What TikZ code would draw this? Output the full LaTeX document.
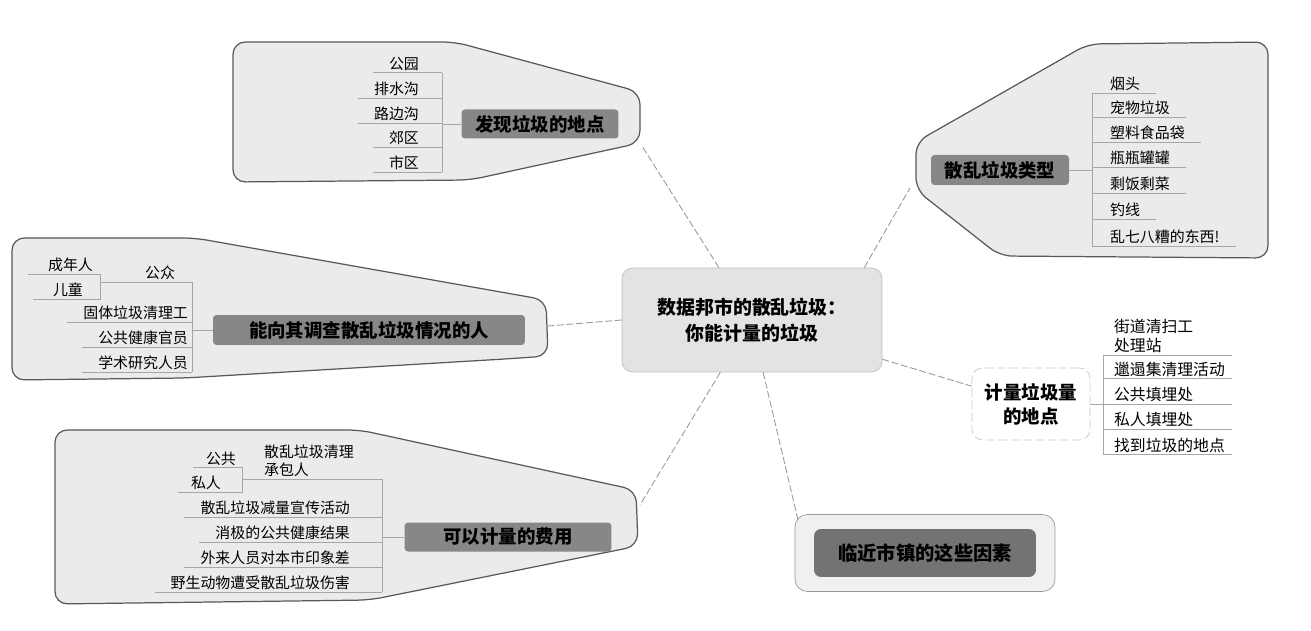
\documentclass[tikz,border=0pt]{standalone}
\usepackage{fontspec}
\setmainfont{Noto Sans CJK SC}
\begin{document}
\begin{tikzpicture}[x=0.02cm,y=-0.02cm,
  balloon/.style={draw=black!65, fill=black!8, line width=0.7pt, rounded corners=7pt},
  topic/.style={fill=black!47, rounded corners=2pt, font=\fontsize{10.5}{12}\selectfont\bfseries, inner sep=0pt, text=black},
  leaf/.style={font=\fontsize{8.5}{10.5}\selectfont, inner sep=1pt},
  rleaf/.style={font=\fontsize{9}{11}\selectfont, inner sep=1pt, anchor=west, align=left},
  rule/.style={draw=black!35, line width=0.5pt},
  link/.style={draw=black!40, line width=0.5pt, dash pattern=on 4pt off 1.5pt},
]
\useasboundingbox (0,0) rectangle (1311,631);

% ---------- central topic ----------
\node[draw=black!25, fill=black!11, rounded corners=6pt, minimum width=5.2cm, minimum height=2.08cm,
      align=center, font=\fontsize{10.8}{15}\selectfont\bfseries] (C) at (752,320)
  {数据邦市的散乱垃圾：\\你能计量的垃圾};

% ---------- where litter is found ----------
\draw[balloon] (233,42) -- (455,42) -- (640,92) -- (640,143) -- (470,180) -- (233,182) -- cycle;
\coordinate (tlb) at (642,146);
\node[topic, minimum width=3.14cm, minimum height=0.58cm] (L1) at (540,124) {发现垃圾的地点};
\coordinate (tlx) at (442,124);
\node[leaf,anchor=east] (p1) at (421,64) {公园};
\node[leaf,anchor=east] (p2) at (421,89) {排水沟};
\node[leaf,anchor=east] (p3) at (421,114) {路边沟};
\node[leaf,anchor=east] (p4) at (421,138) {郊区};
\node[leaf,anchor=east] (p5) at (421,163) {市区};
\foreach \n in {p1,p2,p3,p4,p5}
  \draw[rule] ([xshift=-8pt]\n.south west) -- (\n.south -| tlx);
\draw[rule] (p1.south -| tlx) -- (p5.south -| tlx);
\draw[rule] (tlx) -- (L1.west);

% ---------- types of litter ----------
\draw[balloon] (916,142) -- (1088,44) -- (1268,42) -- (1268,258) -- (1000,256) -- (916,190) -- cycle;
\coordinate (trb) at (910,188);
\node[topic, minimum width=2.76cm, minimum height=0.6cm] (T) at (1000,170) {散乱垃圾类型};
\coordinate (trx) at (1092,170);
\node[leaf,anchor=west] (q1) at (1108,84) {烟头};
\node[leaf,anchor=west] (q2) at (1108,108) {宠物垃圾};
\node[leaf,anchor=west] (q3) at (1108,133) {塑料食品袋};
\node[leaf,anchor=west] (q4) at (1108,158) {瓶瓶罐罐};
\node[leaf,anchor=west] (q5) at (1108,184) {剩饭剩菜};
\node[leaf,anchor=west] (q6) at (1108,210) {钓线};
\node[leaf,anchor=west] (q7) at (1108,237) {乱七八糟的东西!};
\foreach \n in {q1,q2,q3,q4,q5,q6,q7}
  \draw[rule] (\n.south -| trx) -- ([xshift=8pt]\n.south east);
\draw[rule] (q1.south -| trx) -- (q7.south -| trx);
\draw[rule] (T.east) -- (trx);

% ---------- people to survey ----------
\draw[balloon] (12,238) -- (195,238) -- (546,300) -- (548,356) -- (505,359) -- (185,378) -- (12,380) -- cycle;
\coordinate (lb) at (548,326);
\node[topic, minimum width=6.24cm, minimum height=0.6cm] (M) at (369,330) {能向其调查散乱垃圾情况的人};
\coordinate (ax) at (100,0);
\coordinate (mx) at (192,330);
\node[leaf,anchor=east] (a1) at (95,265) {成年人};
\node[leaf,anchor=east] (a2) at (85,290) {儿童};
\node[leaf] (a0) at (160,273) {公众};
\node[leaf,anchor=east] (a3) at (190,313) {固体垃圾清理工};
\node[leaf,anchor=east] (a4) at (190,338) {公共健康官员};
\node[leaf,anchor=east] (a5) at (190,363) {学术研究人员};
\draw[rule] ([xshift=-10pt]a1.south west) -- (a1.south -| ax) -- (a2.south -| ax) -- ([xshift=-10pt]a2.south west);
\draw[rule] (a0.south -| ax) -- (a0.south -| mx);
\foreach \n in {a3,a4,a5}
  \draw[rule] ([xshift=-8pt]\n.south west) -- (\n.south -| mx);
\draw[rule] (a0.south -| mx) -- (a5.south -| mx);
\draw[rule] (mx) -- (M.west);

% ---------- measurable costs ----------
\draw[balloon] (55,430) -- (360,430) -- (636,490) -- (638,546) -- (370,600) -- (55,604) -- cycle;
\coordinate (blb) at (640,505);
\node[topic, minimum width=4.14cm, minimum height=0.58cm] (B) at (508,537) {可以计量的费用};
\coordinate (bx) at (242,0);
\coordinate (cx) at (382,537);
\node[leaf,anchor=east] (b1) at (238,459) {公共};
\node[leaf,anchor=west,align=left] (b0) at (262,461) {散乱垃圾清理\\承包人};
\node[leaf,anchor=east] (b2) at (223,483) {私人};
\node[leaf,anchor=east] (b3) at (352,508) {散乱垃圾减量宣传活动};
\node[leaf,anchor=east] (b4) at (352,533) {消极的公共健康结果};
\node[leaf,anchor=east] (b5) at (352,558) {外来人员对本市印象差};
\node[leaf,anchor=east] (b6) at (352,583) {野生动物遭受散乱垃圾伤害};
\draw[rule] ([xshift=-6pt]b1.south west) -- (b1.south -| bx) -- (b2.south -| bx) -- ([xshift=-6pt]b2.south west);
\draw[rule] (b0.south -| bx) -- (b0.south -| cx);
\foreach \n in {b3,b4,b5,b6}
  \draw[rule] ([xshift=-8pt]\n.south west) -- (\n.south -| cx);
\draw[rule] (b0.south -| cx) -- (b6.south -| cx);
\draw[rule] (cx) -- (B.west);

% ---------- where to measure ----------
\node[draw=black!22, fill=white, rounded corners=6pt, dash pattern=on 5pt off 2pt, minimum width=2.36cm, minimum height=1.44cm,
      align=center, font=\fontsize{10.5}{13.5}\selectfont\bfseries] (R) at (1031,404) {计量垃圾量\\的地点};
\coordinate (rx) at (1103,404);
\coordinate (re) at (1232,0);
\node[rleaf] (r0) at (1112,336) {街道清扫工\\处理站};
\node[rleaf] (r1) at (1112,369) {邋遢集清理活动};
\node[rleaf] (r2) at (1112,395) {公共填埋处};
\node[rleaf] (r3) at (1112,420) {私人填埋处};
\node[rleaf] (r4) at (1112,445) {找到垃圾的地点};
\foreach \n in {r0,r1,r2,r3,r4}
  \draw[rule] (\n.south -| rx) -- (\n.south -| re);
\draw[rule] (r0.south -| rx) -- (r4.south -| rx);
\draw[rule] (R.east) -- (rx);

% ---------- nearby towns ----------
\node[draw=black!40, fill=black!6, rounded corners=7pt, minimum width=5.2cm, minimum height=1.54cm] (F) at (925,553) {};
\node[topic, fill=black!55, rounded corners=4pt, minimum width=4.44cm, minimum height=0.96cm, font=\fontsize{11}{13}\selectfont\bfseries] (F1) at (F.center) {临近市镇的这些因素};
\coordinate (frb) at (798,520);

% ---------- links from the central topic ----------
\draw[link] (C) -- (tlb);
\draw[link] (C.25) -- (trb);
\draw[link] (C.west) -- (lb);
\draw[link] (C) -- (blb);
\draw[link] (C) -- (R);
\draw[link] (C.-78) -- (frb);
\end{tikzpicture}
\end{document}
